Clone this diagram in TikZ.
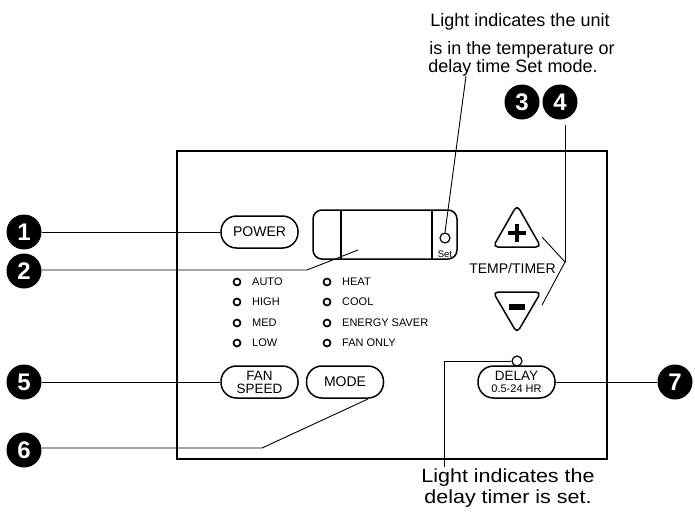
\documentclass[tikz,border=0pt]{standalone}
\usepackage{fontspec}
\setmainfont{Liberation Sans}
\begin{document}
\begin{tikzpicture}[x=1pt,y=-1pt,
  btn/.style={draw, line width=1.5pt, rounded corners=15.5pt, minimum width=77pt, minimum height=32pt, inner sep=0pt, align=center, font=\fontsize{14}{14}\selectfont},
  num/.style={circle, fill=black, minimum size=35pt, inner sep=0pt, text=white, font=\bfseries\fontsize{24}{24}\selectfont},
  led/.style={circle, draw, line width=1.7pt, minimum size=7pt, inner sep=0pt},
  smallled/.style={circle, draw, line width=1.2pt, minimum size=10pt, inner sep=0pt},
  ledtxt/.style={anchor=west, inner sep=0pt, font=\fontsize{11}{11}\selectfont},
  leader/.style={line width=0.9pt},
  note/.style={anchor=base, inner sep=0pt, font=\fontsize{18}{18}\selectfont},
  outline/.style={line width=1.5pt}]
\useasboundingbox (0,0) rectangle (695,512);
% main panel
\draw[line width=2pt] (177,151) rectangle (607,459);
% buttons
\node[btn] (power) at (259.5,232) {POWER};
\node[btn, font=\fontsize{13.5}{13}\selectfont] (fan) at (259.5,382) {FAN\\SPEED};
\node[btn] (mode) at (345,382) {MODE};
\node[btn, font=\fontsize{13.5}{12}\selectfont] (delay) at (516.5,382) {DELAY\\{\fontsize{11}{11}\selectfont 0.5-24 HR}};
% display
\node[draw, outline, rounded corners=9pt, minimum width=144pt, minimum height=49pt, inner sep=0pt] (disp) at (385,234.5) {};
\draw[outline] (341,210) -- (341,259);
\draw[outline] (432,210) -- (432,259);
\node[smallled] (setled) at (445,238) {};
\node[inner sep=0pt, font=\fontsize{9.5}{9.5}\selectfont] (settxt) at (445,254) {Set};
% LEDs
\foreach \y/\a/\b [count=\i] in {282/AUTO/HEAT, 302/HIGH/COOL, 323/MED/ENERGY SAVER, 343/LOW/FAN ONLY}{
  \node[led] (la\i) at (237,\y) {};
  \node[ledtxt] (ta\i) at (252,\y) {\a};
  \node[led] (lb\i) at (327,\y) {};
  \node[ledtxt] (tb\i) at (342,\y) {\b};
}
% temp/timer triangles
\draw[outline, rounded corners=5pt] (517,205) -- (541,247) -- (493,247) -- cycle;
\draw[line width=4pt] (508,232.5) -- (526,232.5) (517,223.5) -- (517,241.5);
\draw[outline, rounded corners=5pt] (493,292) -- (541,292) -- (517,333) -- cycle;
\fill (509,304) rectangle (525,310);
\node[inner sep=0pt, font=\fontsize{14}{14}\selectfont] (tt) at (512.5,268) {TEMP/TIMER};
% delay LED
\node[smallled] (dled) at (517,361) {};
% numbered circles
\node[num] (c1) at (24,232) {1};
\node[num] (c2) at (24,271) {2};
\node[num] (c3) at (522,102) {3};
\node[num] (c4) at (560,102) {4};
\node[num] (c5) at (24,382) {5};
\node[num] (c6) at (24,450) {6};
\node[num] (c7) at (675,382) {7};
% notes
\node[note] (n1) at (520,26) {Light indicates the unit};
\node[note] (n2) at (522,54) {is in the temperature or};
\node[note] (n3) at (513,72) {delay time Set mode.};
\node[anchor=base, inner sep=0pt, font=\fontsize{19}{19}\selectfont] (m1) at (508,482) {\scalebox{1.13}[1]{Light indicates the}};
\node[anchor=base, inner sep=0pt, font=\fontsize{19}{19}\selectfont] (m2) at (508,503) {\scalebox{1.13}[1]{delay timer is set.}};
% leaders
\draw[leader] (c1.east) -- (power.west);
\coordinate (k2) at (307,270);
\coordinate (e2) at (358,250);
\draw[leader] (c2.east |- k2) -- (k2) -- (e2);
\coordinate (s1) at (466,76);
\draw[leader] (s1) -- (setled.north);
\coordinate (t34) at (565,125);
\coordinate (j34) at (565,262);
\coordinate (pl) at (542,237);
\coordinate (mi) at (542,305);
\draw[leader] (t34) -- (j34);
\draw[leader] (pl) -- (j34) -- (mi);
\draw[leader] (c5.east) -- (fan.west);
\coordinate (k6) at (262,448);
\coordinate (e6) at (368,399);
\draw[leader] (c6.east |- k6) -- (k6) -- (e6);
\draw[leader] (delay.east) -- (c7.west);
\coordinate (k7) at (444,361);
\coordinate (e7) at (444,467);
\draw[leader] (dled.west) -- (k7) -- (e7);
\end{tikzpicture}
\end{document}
